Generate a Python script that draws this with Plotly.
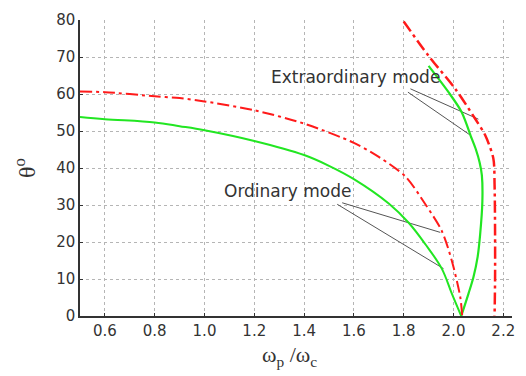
import plotly.graph_objects as go

# Ordinary mode curves
red_ord_x = [0.5, 0.6, 0.8, 0.9, 1.0, 1.2, 1.4, 1.6, 1.7, 1.807, 1.887, 1.953, 1.993, 2.027, 2.035]
red_ord_y = [60.7, 60.5, 59.4, 58.9, 58.0, 55.6, 52.0, 46.8, 43.0, 37.7, 30.2, 23.0, 15.0, 5.2, 0]
green_ord_x = [0.5, 0.6, 0.8, 0.9, 1.0, 1.2, 1.4, 1.5, 1.6, 1.74, 1.82, 1.887, 1.953, 1.993, 2.031]
green_ord_y = [53.8, 53.2, 52.3, 51.3, 50.2, 47.3, 43.5, 40.6, 37.0, 30.4, 25.2, 19.4, 12.8, 6.1, 0]

# Extraordinary mode curves
green_ext_x = [2.031, 2.06, 2.08, 2.097, 2.107, 2.116, 2.114, 2.105, 2.09, 2.073, 2.033, 1.98, 1.90]
green_ext_y = [0, 6, 10.5, 16, 22, 31, 38, 41.5, 45, 48, 55.1, 60.5, 67.6]
red_ext_x = [1.80, 1.90, 2.007, 2.087, 2.127, 2.16, 2.165, 2.167, 2.167, 2.165]
red_ext_y = [79.6, 70.3, 61.4, 53.3, 48.9, 42.6, 35.5, 22.1, 10, 0]

# Leader lines
ord_lead1_x = [1.553, 1.947]
ord_lead1_y = [30.6, 22.6]
ord_lead2_x = [1.533, 1.96]
ord_lead2_y = [30.2, 12.8]
ext_lead1_x = [1.827, 2.10]
ext_lead1_y = [61.4, 53.2]
ext_lead2_x = [1.817, 2.067]
ext_lead2_y = [60.5, 48.9]

x_ticks = [0.6, 0.8, 1.0, 1.2, 1.4, 1.6, 1.8, 2.0, 2.2]
x_tick_labels = ["0.6", "0.8", "1.0", "1.2", "1.4", "1.6", "1.8", "2.0", "2.2"]
y_ticks = [0, 10, 20, 30, 40, 50, 60, 70, 80]

RED = "#ff1a1a"
GREEN = "#22e622"
DASHDOT = "12px,4px,3px,4px"

fig = go.Figure()
for lx, ly in [(ord_lead1_x, ord_lead1_y), (ord_lead2_x, ord_lead2_y),
               (ext_lead1_x, ext_lead1_y), (ext_lead2_x, ext_lead2_y)]:
    fig.add_trace(go.Scatter(x=lx, y=ly, mode="lines",
                             line=dict(color="#555555", width=1), showlegend=False))

fig.add_trace(go.Scatter(x=green_ord_x, y=green_ord_y, mode="lines",
                         line=dict(color=GREEN, width=2, shape="spline", smoothing=1.0),
                         showlegend=False))
fig.add_trace(go.Scatter(x=green_ext_x, y=green_ext_y, mode="lines",
                         line=dict(color=GREEN, width=2.2, shape="spline", smoothing=0.8),
                         showlegend=False))
fig.add_trace(go.Scatter(x=red_ord_x, y=red_ord_y, mode="lines",
                         line=dict(color=RED, width=2, dash=DASHDOT, shape="spline", smoothing=0.8),
                         showlegend=False))
fig.add_trace(go.Scatter(x=red_ext_x, y=red_ext_y, mode="lines",
                         line=dict(color=RED, width=2.5, dash=DASHDOT, shape="spline", smoothing=0.8),
                         showlegend=False))

fig.add_annotation(x=1.26, y=64.5, text="Extraordinary mode", showarrow=False,
                   xanchor="left", yanchor="middle",
                   font=dict(family="DejaVu Sans", size=17, color="#333333"))
fig.add_annotation(x=1.072, y=33.7, text="Ordinary mode", showarrow=False,
                   xanchor="left", yanchor="middle",
                   font=dict(family="DejaVu Sans", size=17, color="#333333"))

# x-axis title placed as annotation to match the reference position
fig.add_annotation(xref="paper", yref="paper", x=0.485, y=-0.135,
                   text="ω<sub>p</sub> /ω<sub>c</sub>", showarrow=False,
                   xanchor="center", yanchor="middle",
                   font=dict(family="Liberation Serif", size=22, color="#333333"))

axis_common = dict(
    showline=True, linecolor="#333333", linewidth=1.5,
    showgrid=True, gridcolor="#b5b5b5", griddash="dot", gridwidth=1,
    zeroline=False, ticks="inside", ticklen=3, tickcolor="#333333",
    tickfont=dict(family="DejaVu Sans", size=15, color="#333333"),
)

fig.update_xaxes(range=[0.5, 2.235], tickvals=x_ticks, ticktext=x_tick_labels,
                 **axis_common)
fig.update_yaxes(range=[0, 80], tickvals=y_ticks,
                 title=dict(text="θ<sup>o</sup>",
                            font=dict(family="Liberation Serif", size=24, color="#333333"),
                            standoff=14),
                 **axis_common)

fig.update_layout(
    width=526, height=376,
    margin=dict(l=80, r=11, t=17, b=60),
    plot_bgcolor="white", paper_bgcolor="white",
)

fig.write_html("out.html")
